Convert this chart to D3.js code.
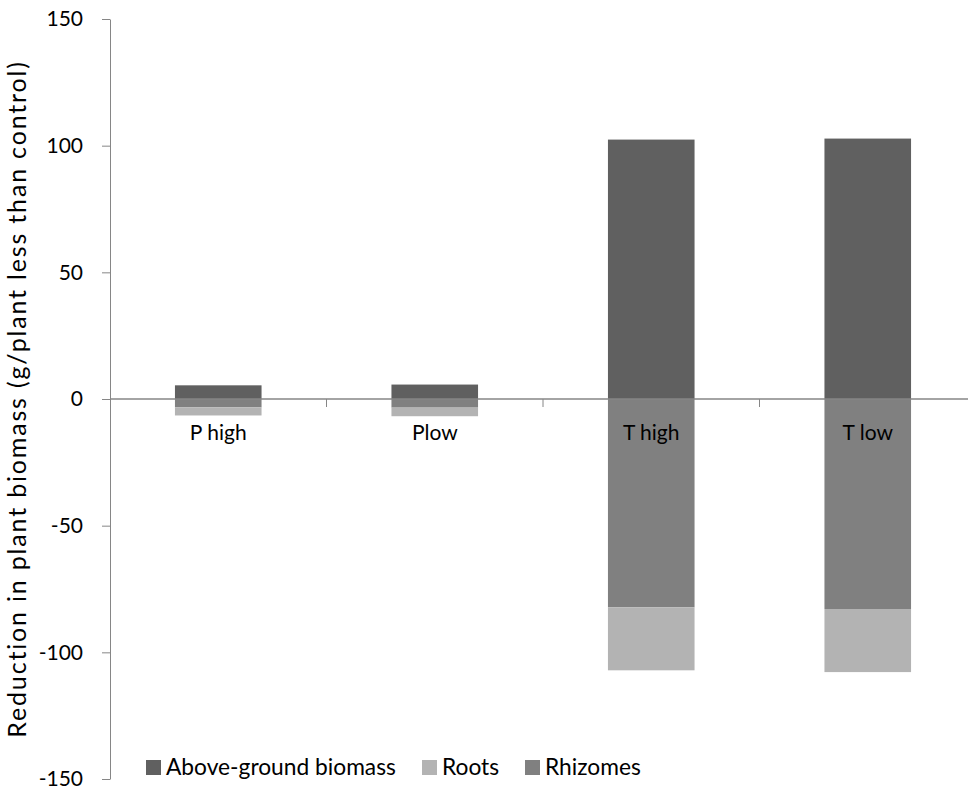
<!DOCTYPE html>
<html>
<head>
<meta charset="utf-8">
<script src="https://cdn.jsdelivr.net/npm/d3@7"></script>
<style>
body{margin:0;background:#fff;}
svg{display:block;}
text{font-family:Lato,"Open Sans",sans-serif;fill:#000;}
</style>
</head>
<body>
<svg id="chart" width="968" height="789"></svg>
<script>
const categories = ["P high", "Plow", "T high", "T low"];
const aboveGround = [5.4, 5.7, 102.4, 102.8];
const rhizomes = [-3.3, -3.4, -82.2, -82.9];
const roots = [-3.2, -3.4, -24.9, -24.9];
const yTicks = [-150, -100, -50, 0, 50, 100, 150];
const seriesNames = ["Above-ground biomass", "Rhizomes", "Roots"];
const legendOrder = ["Above-ground biomass", "Roots", "Rhizomes"];
const colors = {"Above-ground biomass": "#606060", "Rhizomes": "#808080", "Roots": "#b3b3b3"};

const rows = categories.map((c, i) => ({
  cat: c,
  "Above-ground biomass": aboveGround[i],
  "Rhizomes": rhizomes[i],
  "Roots": roots[i]
}));

const svg = d3.select("#chart");
const mLeft = 110, mRight = 976, mTop = 19, mBottom = 779;
const FONT = "Lato, 'Open Sans', sans-serif";

const x = d3.scaleBand().domain(categories).range([mLeft, mRight]).paddingInner(0).paddingOuter(0);
const y = d3.scaleLinear().domain([-150, 150]).range([mBottom, mTop]);
const barW = x.bandwidth() * 0.4;

const stack = d3.stack().keys(seriesNames).offset(d3.stackOffsetDiverging);
const stacked = stack(rows);

svg.append("g").selectAll("g").data(stacked).join("g")
  .attr("fill", d => colors[d.key])
  .selectAll("rect").data(d => d).join("rect")
  .attr("x", d => x(d.data.cat) + (x.bandwidth() - barW) / 2)
  .attr("width", barW)
  .attr("y", d => y(Math.max(d[0], d[1])))
  .attr("height", d => Math.abs(y(d[0]) - y(d[1])));

// Y axis
const yAxis = svg.append("g").attr("transform", `translate(${mLeft},0)`)
  .call(d3.axisLeft(y).tickValues(yTicks).tickFormat(d => String(d)).tickSize(8).tickSizeOuter(0).tickPadding(19));
yAxis.select(".domain").attr("stroke", "#868686");
yAxis.selectAll(".tick line").attr("stroke", "#868686");
yAxis.selectAll(".tick text").style("font-size", "21px").style("font-family", FONT).attr("fill", "#000");

// X axis at zero
const zeroY = y(0);
const xg = svg.append("g");
xg.append("line").attr("x1", mLeft).attr("x2", mRight).attr("y1", zeroY).attr("y2", zeroY)
  .attr("stroke", "#868686").attr("stroke-width", 1.3);
const boundaries = categories.map(c => x(c) + x.bandwidth());
xg.selectAll("line.tk").data(boundaries).join("line").attr("class", "tk")
  .attr("x1", d => d).attr("x2", d => d).attr("y1", zeroY).attr("y2", zeroY + 8)
  .attr("stroke", "#868686");
xg.selectAll("text").data(categories).join("text")
  .attr("x", d => x(d) + x.bandwidth() / 2)
  .attr("y", zeroY + 41)
  .attr("text-anchor", "middle")
  .style("font-size", "21px")
  .text(d => d);

// Y title: 25px, letter-spaced to the reference's length
const titleStr = "Reduction in plant biomass (g/plant less than control)";
const title = svg.append("text")
  .attr("transform", `translate(26,${(mTop + mBottom) / 2}) rotate(-90)`)
  .attr("text-anchor", "middle")
  .style("font-size", "25px")
  .text(titleStr);
const tl = title.node().getComputedTextLength();
if (tl > 0 && tl < 676) title.style("letter-spacing", ((676 - tl) / (titleStr.length - 1)).toFixed(2) + "px");

// Legend
const legendX = [146, 422, 525];
const lg = svg.append("g");
const legendTexts = [];
legendOrder.forEach((k, i) => {
  const g = lg.append("g").attr("transform", `translate(${legendX[i]},760)`);
  g.append("rect").attr("width", 15).attr("height", 15).attr("fill", colors[k]);
  legendTexts.push(g.append("text").attr("x", 20).attr("y", 15).style("font-size", "20px").text(k));
});
const ll = legendTexts[0].node().getComputedTextLength();
if (ll > 0) legendTexts.forEach(t => t.style("font-size", (20 * 230 / ll).toFixed(2) + "px"));
</script>
</body>
</html>
